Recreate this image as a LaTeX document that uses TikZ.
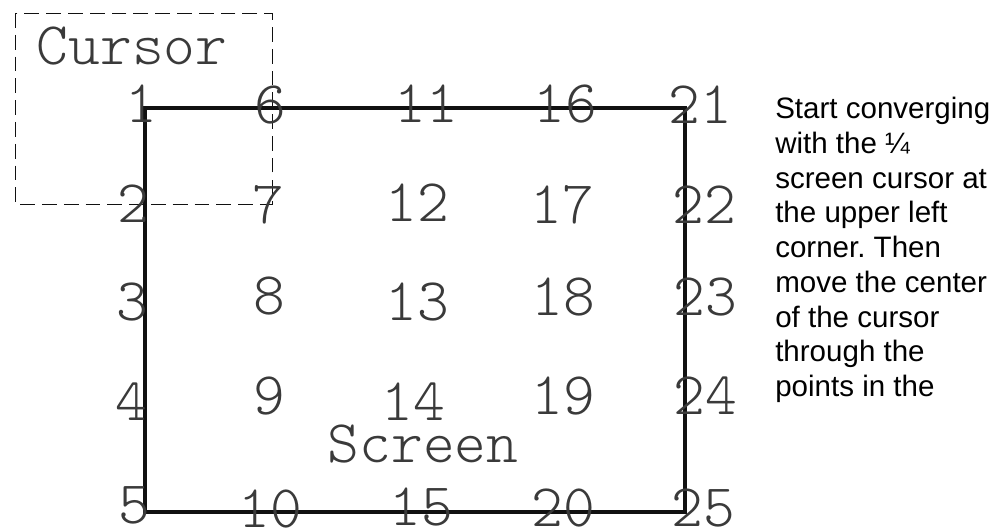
\documentclass[tikz,border=0pt]{standalone}
\usepackage{fontspec}
\newfontfamily\notefont{Liberation Sans}
\newcommand{\plotfont}{\fontfamily{lmtt}\fontseries{l}\selectfont\fontsize{43}{43}\selectfont}
\usetikzlibrary{positioning}
\definecolor{ink}{HTML}{111111}
\definecolor{plotink}{HTML}{3A3A3A}
\tikzset{
  pt/.style={font=\plotfont, text=plotink, inner sep=0pt},
  lbl/.style={pt},
  screenline/.style={draw=ink, line width=2.3pt},
  cursorline/.style={draw=ink, line width=0.7pt, dash pattern=on 10.5pt off 5pt},
  note/.style={font=\notefont\fontsize{21}{24.7}\selectfont\frenchspacing, text=black,
               align=left, inner sep=0pt},
}

\begin{document}
\begin{tikzpicture}[x=0.025cm, y=-0.025cm]
\useasboundingbox (0,0) rectangle (1002,529);

% --- frames ---
\coordinate (scrTL) at (145,108);
\coordinate (scrBR) at (685,512);
\coordinate (curTL) at (15,13);
\coordinate (curBR) at (272,204);
\draw[cursorline] (curTL) rectangle (curBR);
\draw[screenline] (scrTL) rectangle (scrBR);

\node[lbl] (cursor) at (132,46) {Cursor};
\node[lbl] (screen) at (423,444) {Screen};

% --- column 1 ---
\node[pt] (n1) at (141,104) {1};
\node[pt] (n2) at (133,204) {2};
\node[pt] (n3) at (132,302) {3};
\node[pt] (n4) at (131,402) {4};
\node[pt] (n5) at (134,505) {5};

% --- column 2 ---
\node[pt] (n6) at (270,105) {6};
\node[pt] (n7) at (268,205) {7};
\node[pt] (n8) at (269,296) {8};
\node[pt] (n9) at (269,396) {9};
\node[pt] (n10) at (270,509) {10};

% --- column 3 ---
\node[pt] (n11) at (426,104) {11};
\node[pt] (n12) at (417,203) {12};
\node[pt] (n13) at (417,302) {13};
\node[pt] (n14) at (413,402) {14};
\node[pt] (n15) at (421,507) {15};

% --- column 4 ---
\node[pt] (n16) at (565,104) {16};
\node[pt] (n17) at (562,205) {17};
\node[pt] (n18) at (563,297) {18};
\node[pt] (n19) at (563,396) {19};
\node[pt] (n20) at (563,508) {20};

% --- column 5 ---
\node[pt] (n21) at (700,105) {21};
\node[pt] (n22) at (704,205) {22};
\node[pt] (n23) at (705,297) {23};
\node[pt] (n24) at (705,396) {24};
\node[pt] (n25) at (703,508) {25};

% --- side note ---
\node[note, anchor=north west] (hint) at (775,97)
  {Start converging\\with the ¼\\screen cursor at\\the upper left\\corner. Then\\move the center\\of the cursor\\through the\\points in the};

\end{tikzpicture}
\end{document}
